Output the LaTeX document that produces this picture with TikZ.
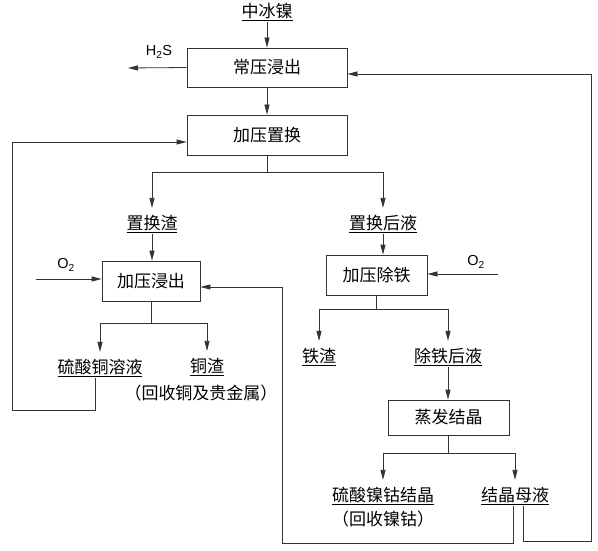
\documentclass[tikz,border=0pt]{standalone}
\usepackage{fontspec}
\setmainfont{Noto Sans CJK SC}
\newfontfamily\latinfont{Liberation Sans}
\usetikzlibrary{arrows.meta}

\tikzset{
  pipe/.style={draw=black!80, line width=0.8pt},
  flow/.style={pipe, -{Triangle[length=10pt,width=5pt]}},
  toprod/.style={flow, shorten >=6pt},
  unit/.style={draw=black!80, line width=0.8pt, inner sep=0pt,
    font=\fontsize{17}{20}\selectfont},
  prod/.style={inner sep=1pt, anchor=south, font=\fontsize{17}{20}\selectfont},
  note/.style={inner sep=1pt, font=\fontsize{17}{20}\selectfont},
  gas/.style={inner sep=1pt, font=\latinfont\fontsize{14.5}{16}\selectfont},
}

\begin{document}
\begin{tikzpicture}[x=1pt,y=-1pt]
  \useasboundingbox (0,0) rectangle (598,551);
  % process units
  \node[unit, minimum width=160pt, minimum height=39pt] (leach1) at (267,67.5) {常压浸出};
  \node[unit, minimum width=160pt, minimum height=40pt] (replace) at (267,135) {加压置换};
  \node[unit, minimum width=98pt, minimum height=40pt] (leach2) at (151,281) {加压浸出};
  \node[unit, minimum width=101pt, minimum height=40pt] (defe) at (376.5,275) {加压除铁};
  \node[unit, minimum width=121pt, minimum height=35pt] (evap) at (448.5,417.5) {蒸发结晶};
  % materials
  \node[prod] (feed) at (267,22) {\underline{中冰镍}};
  \node[prod] (slag1) at (152,234) {\underline{置换渣}};
  \node[prod] (liq1) at (383,234) {\underline{置换后液}};
  \node[prod] (cuso4) at (100,378) {\underline{硫酸铜溶液}};
  \node[prod] (cuslag) at (207,377) {\underline{铜渣}};
  \node[note] (curec) at (201,393) {（回收铜及贵金属）};
  \node[prod] (feslag) at (319,367) {\underline{铁渣}};
  \node[prod] (liq2) at (448,367) {\underline{除铁后液}};
  \node[prod] (niso4) at (383,506) {\underline{硫酸镍钴结晶}};
  \node[note] (nirec) at (383,519) {（回收镍钴）};
  \node[prod] (mother) at (515,506) {\underline{结晶母液}};
  % gases
  \node[gas] (h2s) at (159,52) {H\textsubscript{2}S};
  \node[gas] (o2a) at (66,265) {O\textsubscript{2}};
  \node[gas] (o2b) at (476,262) {O\textsubscript{2}};
  \coordinate (h2sout) at (128,68);
  \coordinate (o2ain) at (36,279);
  \coordinate (o2bin) at (498,274);

  \draw[flow] (feed) -- (leach1);
  \draw[flow] (leach1.west) -- (h2sout);
  \draw[flow] (leach1) -- (replace);
  \draw[pipe] (replace.south) -- ++(0,17) coordinate (b1);
  \draw[toprod] (b1) -| (slag1.north);
  \draw[toprod] (b1) -| (liq1.north);
  \draw[flow] (slag1.south) -- (slag1.south |- leach2.north);
  \draw[flow] (o2ain) -- (o2ain -| leach2.west);
  \draw[pipe] (leach2.south) -- ++(0,22) coordinate (b2);
  \draw[toprod] (b2) -| (cuso4.north);
  \draw[toprod] (b2) -| (cuslag.north);
  \draw[flow] (liq1.south) -- (liq1.south |- defe.north);
  \draw[flow] (o2bin) -- (o2bin -| defe.east);
  \draw[pipe] (defe.south) -- ++(0,14) coordinate (b3);
  \draw[toprod] (b3) -| (feslag.north);
  \draw[toprod] (b3) -| (liq2.north);
  \draw[flow] (liq2.south) -- (liq2.south |- evap.north);
  \draw[pipe] (evap.south) -- ++(0,18) coordinate (b4);
  \draw[toprod] (b4) -| (niso4.north);
  \draw[toprod] (b4) -| (mother.north);
  % recycle lines
  \draw[flow] ([xshift=-5pt]cuso4.south) -- ++(0,32) -| (12,142) -- (replace.west |- 0,142);
  \draw[flow] ([xshift=-2pt]mother.south) -- ++(0,37) -| (282,287) -- (leach2.east |- 0,287);
  \draw[flow] ([xshift=8pt]mother.south) -- ++(0,35) -| (591,74) -- (leach1.east |- 0,74);
\end{tikzpicture}
\end{document}
